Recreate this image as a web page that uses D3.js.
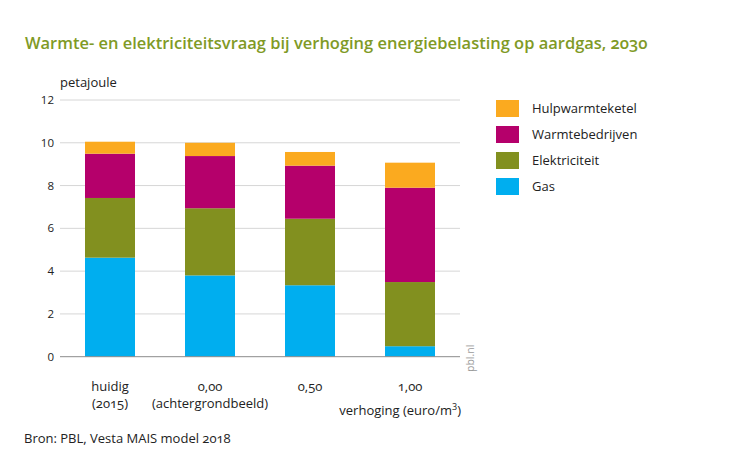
<!DOCTYPE html>
<html><head><meta charset="utf-8">
<script src="https://cdn.jsdelivr.net/npm/d3@7"></script>
<style>
body{margin:0;background:#fff;}
text{font-family:"Open Sans","Noto Sans",sans-serif;}
.onum{font-variant-numeric:oldstyle-nums;font-feature-settings:"onum" 1;}
</style></head>
<body><svg id="chart" width="732" height="450"></svg>
<script>
const categories = ["huidig", "0,00", "0,50", "1,00"];
const categorySub = ["(2015)", "(achtergrondbeeld)", "", ""];
const seriesNames = ["Gas", "Elektriciteit", "Warmtebedrijven", "Hulpwarmteketel"];
const gas = [4.63, 3.80, 3.34, 0.49];
const elektriciteit = [2.79, 3.14, 3.11, 3.00];
const warmtebedrijven = [2.07, 2.44, 2.48, 4.41];
const hulpwarmteketel = [0.56, 0.62, 0.64, 1.17];
const yTicks = [0, 2, 4, 6, 8, 10, 12];
const colors = ["#00aeef", "#82901f", "#b5006b", "#fbaa1f"];

const svg = d3.select("#chart");
const x = d3.scaleBand().domain(categories).range([60, 460]).paddingInner(0.5).paddingOuter(0.25);
const y = d3.scaleLinear().domain([0, 12]).range([356.7, 100]);

const rows = categories.map((c, i) => ({cat: c, Gas: gas[i], Elektriciteit: elektriciteit[i], Warmtebedrijven: warmtebedrijven[i], Hulpwarmteketel: hulpwarmteketel[i]}));
const stack = d3.stack().keys(seriesNames)(rows);

// gridlines
svg.append("g").selectAll("line").data(yTicks.filter(t => t > 0)).join("line")
  .attr("x1", 60).attr("x2", 460).attr("y1", d => y(d)).attr("y2", d => y(d))
  .attr("stroke", "#d6d6d6").attr("stroke-width", 1);

// y tick labels
svg.append("g").selectAll("text").data(yTicks).join("text")
  .attr("x", 54).attr("y", d => y(d) + 4).attr("text-anchor", "end")
  .attr("font-size", 11.5).attr("fill", "#222").text(d => d);

// bars
svg.append("g").selectAll("g").data(stack).join("g")
  .attr("fill", (d, i) => colors[i])
  .selectAll("rect").data(d => d).join("rect")
  .attr("x", d => x(d.data.cat)).attr("width", x.bandwidth())
  .attr("y", d => y(d[1])).attr("height", d => y(d[0]) - y(d[1]));

// baseline
svg.append("line").attr("x1", 60).attr("x2", 460).attr("y1", y(0)).attr("y2", y(0))
  .attr("stroke", "#8c8c8c").attr("stroke-width", 1);

// x labels
const xl = svg.append("g");
categories.forEach((c, i) => {
  const cx = x(c) + x.bandwidth() / 2;
  xl.append("text").attr("class", "onum").attr("x", cx).attr("y", 391).attr("text-anchor", "middle")
    .attr("font-size", 13).attr("fill", "#222").text(c);
  if (categorySub[i]) xl.append("text").attr("class", "onum").attr("x", cx).attr("y", 408).attr("text-anchor", "middle")
    .attr("font-size", 13).attr("fill", "#222").text(categorySub[i]);
});
const vt = svg.append("text").attr("x", 461).attr("y", 415).attr("text-anchor", "end")
  .attr("font-size", 13).attr("fill", "#222");
vt.append("tspan").text("verhoging (euro/m");
vt.append("tspan").attr("font-size", 9).attr("dy", -5).text("3");
vt.append("tspan").attr("dy", 5).text(")");

// title
const title = svg.append("text").attr("class", "onum").attr("x", 25).attr("y", 49)
  .attr("font-size", 17).attr("font-weight", 600).attr("fill", "#7f9a26")
  .text("Warmte- en elektriciteitsvraag bij verhoging energiebelasting op aardgas, 2030");
const tw = title.node().getComputedTextLength();
title.attr("font-size", 17 * 623 / tw);

// unit
svg.append("text").attr("x", 60).attr("y", 87).attr("font-size", 13).attr("fill", "#222").text("petajoule");

// pbl.nl
svg.append("text").attr("transform", "translate(474,372) rotate(-90)")
  .attr("font-size", 10.5).attr("fill", "#9a9a9a").text("pbl.nl");

// legend
const legendOrder = [3, 2, 1, 0];
const lg = svg.append("g").selectAll("g").data(legendOrder).join("g")
  .attr("transform", (d, i) => `translate(496,${100 + i * 26})`);
lg.append("rect").attr("width", 23).attr("height", 17).attr("fill", d => colors[d]);
lg.append("text").attr("x", 36).attr("y", 13).attr("font-size", 13).attr("fill", "#222").text(d => seriesNames[d]);

// source
svg.append("text").attr("class", "onum").attr("x", 24).attr("y", 443).attr("font-size", 13).attr("fill", "#222")
  .text("Bron: PBL, Vesta MAIS model 2018");
</script></body></html>
